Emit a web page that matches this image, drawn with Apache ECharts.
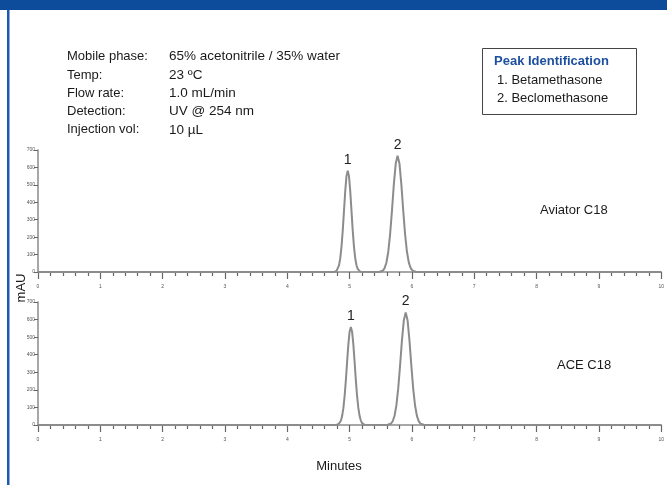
<!DOCTYPE html>
<html>
<head>
<meta charset="utf-8">
<script src="https://cdn.jsdelivr.net/npm/echarts@6/dist/echarts.min.js"></script>
<style>
html,body{margin:0;padding:0;background:#fff;}
#chart{width:667px;height:485px;}
</style>
</head>
<body>
<div id="chart"></div>
<script>
// Aviator C18 chromatogram (minutes, mAU)
const aviatorTime = [0,
  4.75, 4.77, 4.79, 4.81, 4.83, 4.85, 4.87, 4.89, 4.91, 4.93, 4.95, 4.97, 4.99, 5.01, 5.03, 5.05, 5.07, 5.09, 5.11, 5.13, 5.15, 5.17, 5.19,
  5.47, 5.50, 5.53, 5.56, 5.59, 5.62, 5.65, 5.68, 5.71, 5.74, 5.77, 5.80, 5.83, 5.86, 5.89, 5.92, 5.95, 5.98, 6.01, 6.04, 6.07,
  10];
const aviatorMAU = [0,
  0, 2, 6, 17, 38, 79, 145, 239, 352, 465, 550, 581, 550, 465, 352, 239, 145, 80, 39, 18, 7, 2, 0,
  0, 2, 7, 21, 53, 115, 217, 354, 504, 622, 667, 622, 504, 354, 217, 116, 54, 22, 8, 2, 0,
  0];
// ACE C18 chromatogram (minutes, mAU)
const aceTime = [0,
  4.78, 4.80, 4.82, 4.84, 4.86, 4.88, 4.90, 4.92, 4.94, 4.96, 4.98, 5.00, 5.02, 5.04, 5.06, 5.08, 5.10, 5.12, 5.14, 5.16, 5.18, 5.20, 5.22, 5.24, 5.26,
  5.60, 5.63, 5.66, 5.69, 5.72, 5.75, 5.78, 5.81, 5.84, 5.87, 5.90, 5.93, 5.96, 5.99, 6.02, 6.05, 6.08, 6.11, 6.14, 6.17, 6.20,
  10];
const aceMAU = [0,
  0, 1, 4, 11, 24, 51, 96, 165, 255, 360, 459, 531, 558, 531, 459, 360, 255, 165, 97, 52, 25, 11, 4, 1, 0,
  0, 2, 7, 20, 51, 110, 208, 340, 483, 596, 640, 596, 483, 340, 208, 111, 52, 21, 7, 2, 0,
  0];
// Peak apexes: [time, mAU, label]
const aviatorPeaks = [[4.97, 581, '1'], [5.77, 667, '2']];
const acePeaks = [[5.02, 558, '1'], [5.90, 640, '2']];
const panelNames = ['Aviator C18', 'ACE C18'];
const conditionLabels = ['Mobile phase:', 'Temp:', 'Flow rate:', 'Detection:', 'Injection vol:'];
const conditionValues = ['65% acetonitrile / 35% water', '23 ºC', '1.0 mL/min', 'UV @ 254 nm', '10 µL'];
const peakIdTitle = 'Peak Identification';
const peakIds = ['1. Betamethasone', '2. Beclomethasone'];
const xMin = 0, xMax = 10, xInterval = 1;
const yMin = 0, yMax = 700, yInterval = 100;

const FONT = '"Liberation Sans", Arial, sans-serif';
const chart = echarts.init(document.getElementById('chart'), null, {renderer: 'canvas'});

function zip(t, v) { return t.map((x, i) => [x, v[i]]); }

function xAxisCfg(gi) {
  return {
    type: 'value', gridIndex: gi, min: xMin, max: xMax, interval: xInterval,
    axisLine: {show: true, onZero: false, lineStyle: {color: '#8a8a8a', width: 1.5}},
    axisTick: {show: true, length: 7, lineStyle: {color: '#666', width: 1.2}},
    minorTick: {show: true, splitNumber: 5, length: 4, lineStyle: {color: '#666', width: 1.2}},
    axisLabel: {show: true, fontSize: 5, color: '#555', margin: 12, fontFamily: FONT},
    splitLine: {show: false}
  };
}
function yAxisCfg(gi) {
  return {
    type: 'value', gridIndex: gi, min: yMin, max: yMax, interval: yInterval,
    axisLine: {show: true, lineStyle: {color: '#8a8a8a', width: 1.5}},
    axisTick: {show: true, length: 4, lineStyle: {color: '#666', width: 1}},
    axisLabel: {show: true, fontSize: 5, color: '#555', margin: 3, fontFamily: FONT},
    splitLine: {show: false}
  };
}
function peakSeries(gi, data, peaks) {
  return {
    type: 'line', xAxisIndex: gi, yAxisIndex: gi, data: data,
    smooth: false, symbol: 'none', clip: false,
    lineStyle: {color: '#8c8c8c', width: 2},
    markPoint: {
      symbol: 'circle', symbolSize: 2, itemStyle: {color: 'rgba(0,0,0,0)'},
      label: {show: true, position: 'top', distance: 3, color: '#222', fontSize: 14, fontFamily: FONT,
        formatter: p => p.name},
      data: peaks.map(p => ({name: p[2], coord: [p[0], p[1]]}))
    }
  };
}

const condChildren = [];
conditionLabels.forEach((t, i) => {
  condChildren.push({type: 'text', x: 67, y: 56.7 + i * 18.3,
    style: {text: t, font: '13px ' + FONT, fill: '#1a1a1a', verticalAlign: 'middle'}});
  condChildren.push({type: 'text', x: 169, y: 56.7 + i * 18.3,
    style: {text: conditionValues[i], font: '13.5px ' + FONT, fill: '#1a1a1a', verticalAlign: 'middle'}});
});

const option = {
  animation: false,
  backgroundColor: '#ffffff',
  grid: [
    {left: 38, right: 3, top: 150, bottom: 213},
    {left: 38, right: 3, top: 302, bottom: 60}
  ],
  xAxis: [xAxisCfg(0), xAxisCfg(1)],
  yAxis: [yAxisCfg(0), yAxisCfg(1)],
  series: [
    peakSeries(0, zip(aviatorTime, aviatorMAU), aviatorPeaks),
    peakSeries(1, zip(aceTime, aceMAU), acePeaks)
  ],
  graphic: [
    {type: 'rect', left: 0, top: 0, shape: {width: 667, height: 10}, style: {fill: '#0c4c9b'}},
    {type: 'rect', left: 7, top: 10, shape: {width: 2.5, height: 475}, style: {fill: '#1d58b4'}},
    ...condChildren,
    {type: 'rect', x: 482.5, y: 48.5, shape: {width: 154, height: 66},
      style: {fill: '#fff', stroke: '#444', lineWidth: 1}},
    {type: 'text', x: 494, y: 61, style: {text: peakIdTitle, font: 'bold 13px ' + FONT, fill: '#1c4f9e', verticalAlign: 'middle'}},
    {type: 'text', x: 497, y: 80, style: {text: peakIds[0], font: '13px ' + FONT, fill: '#1a1a1a', verticalAlign: 'middle'}},
    {type: 'text', x: 497, y: 98.3, style: {text: peakIds[1], font: '13px ' + FONT, fill: '#1a1a1a', verticalAlign: 'middle'}},
    {type: 'text', x: 540, y: 210, style: {text: panelNames[0], font: '13px ' + FONT, fill: '#1a1a1a', verticalAlign: 'middle'}},
    {type: 'text', x: 557, y: 365, style: {text: panelNames[1], font: '13px ' + FONT, fill: '#1a1a1a', verticalAlign: 'middle'}},
    {type: 'text', x: 339, y: 466, style: {text: 'Minutes', font: '13px ' + FONT, fill: '#1a1a1a', align: 'center', verticalAlign: 'middle'}},
    {type: 'text', x: 21, y: 288, rotation: Math.PI / 2,
      style: {text: 'mAU', font: '13px ' + FONT, fill: '#1a1a1a', align: 'center', verticalAlign: 'middle'}}
  ]
};
chart.setOption(option);
</script>
</body>
</html>
